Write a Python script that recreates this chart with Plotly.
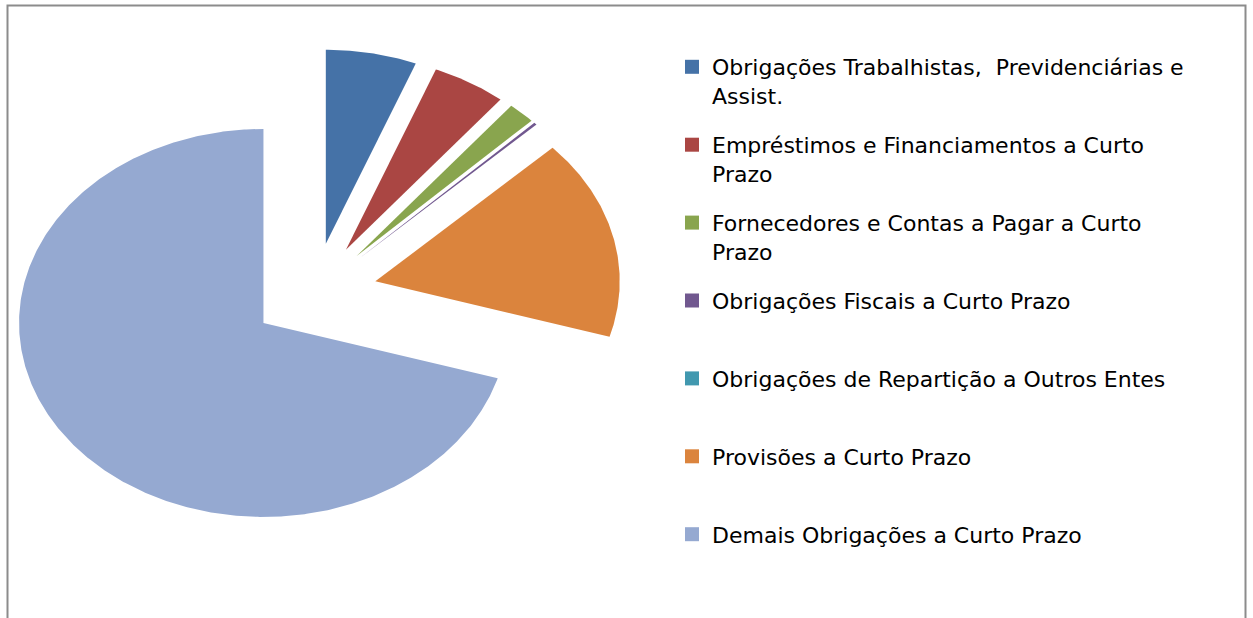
import numpy as np
import plotly.graph_objects as go

categories = [
    "Obrigações Trabalhistas, Previdenciárias e Assist.",
    "Empréstimos e Financiamentos a Curto Prazo",
    "Fornecedores e Contas a Pagar a Curto Prazo",
    "Obrigações Fiscais a Curto Prazo",
    "Obrigações de Repartição a Outros Entes",
    "Provisões a Curto Prazo",
    "Demais Obrigações a Curto Prazo",
]
legend_labels = [
    "Obrigações Trabalhistas,  Previdenciárias e<br>Assist.",
    "Empréstimos e Financiamentos a Curto<br>Prazo",
    "Fornecedores e Contas a Pagar a Curto<br>Prazo",
    "Obrigações Fiscais a Curto Prazo<br>\u00a0",
    "Obrigações de Repartição a Outros Entes<br>\u00a0",
    "Provisões a Curto Prazo<br>\u00a0",
    "Demais Obrigações a Curto Prazo<br>\u00a0",
]
values = [6.0, 4.9, 1.8, 0.2, 0.01, 16.7, 70.4]
colors = ["#4572A7", "#AA4643", "#89A54E", "#71588F", "#4198AF", "#DB843D", "#95A9D1"]

# layout constants
W, H = 1253, 618
CX, CY = 314, 293        # pie centre in pixels
RX, RY = 244.4, 194.0    # pixel radius horizontally / vertically (stretched pie)
PULL = 0.258

fig = go.Figure()
total = sum(values)
start = 0.0
for name, lab, v, c in zip(categories, legend_labels, values, colors):
    a0 = start / total * 2 * np.pi
    a1 = (start + v) / total * 2 * np.pi
    start += v
    mid = (a0 + a1) / 2
    ox, oy = PULL * np.sin(mid), PULL * np.cos(mid)
    th = np.linspace(a0, a1, max(3, int((a1 - a0) / (2 * np.pi) * 720)))
    xs = np.concatenate([[ox], ox + np.sin(th), [ox]])
    ys = np.concatenate([[oy], oy + np.cos(th), [oy]])
    fig.add_trace(go.Scatter(
        x=xs, y=ys, mode="lines", fill="toself", fillcolor=c,
        line=dict(width=0, color=c), hoverinfo="text", text=name,
        showlegend=False, legendgroup=name))
    fig.add_trace(go.Scatter(
        x=[None], y=[None], mode="markers", name=lab, legendgroup=name,
        marker=dict(symbol="square", size=14, color=c)))

fig.update_layout(
    width=W, height=H,
    margin=dict(l=0, r=0, t=0, b=0, pad=0),
    paper_bgcolor="white", plot_bgcolor="white",
    xaxis=dict(range=[-CX / RX, (W - CX) / RX], visible=False, fixedrange=True),
    yaxis=dict(range=[-(H - CY) / RY, CY / RY], visible=False, fixedrange=True),
    showlegend=True,
    legend=dict(
        x=672 / W, y=1 - 46 / H, xanchor="left", yanchor="top",
        font=dict(family="DejaVu Sans", size=22, color="#000000"),
        valign="top", tracegroupgap=17.7, itemsizing="trace",
        bgcolor="rgba(0,0,0,0)",
    ),
    shapes=[dict(type="rect", xref="paper", yref="paper",
                 x0=7.5 / W, x1=1245.5 / W, y0=-0.05, y1=1 - 5.5 / H,
                 line=dict(color="#8C8C8C", width=2))],
)

fig.write_html("out.html", config={"displayModeBar": False},
               post_script="document.body.style.margin='0';document.body.style.overflow='hidden';")
